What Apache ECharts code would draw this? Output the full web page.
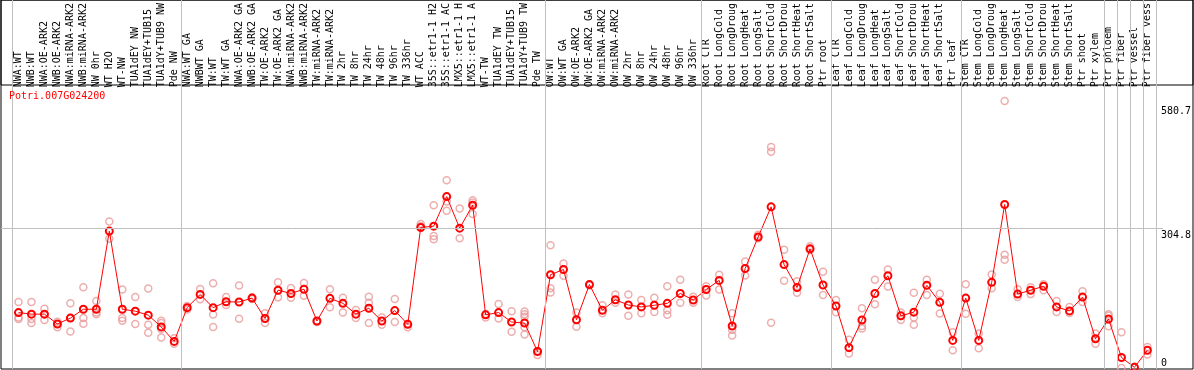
<!DOCTYPE html>
<html><head><meta charset="utf-8">
<script src="https://cdn.jsdelivr.net/npm/echarts@6/dist/echarts.min.js"></script>
<style>html,body{margin:0;padding:0;background:#fff}#c{width:1194px;height:370px}</style>
</head><body><div id="c"></div>
<script>
const chartTitle = 'Potri.007G024200';
const categories = [
'NWA:WT','NWB:WT','NWA:OE-ARK2','NWB:OE-ARK2','NWA:miRNA-ARK2','NWB:miRNA-ARK2','NW 0hr','WT H2O','WT-NW','TUA1dEY NW',
'TUA1dEY+TUB15','TUA1dY+TUB9 NW','Pde NW','NWA:WT GA','NWBWT GA','TW:WT','TW:WT GA','NWA:OE-ARK2 GA','NWB:OE-ARK2 GA','TW:OE-ARK2',
'TW:OE-ARK2 GA','NWA:miRNA-ARK2','NWB:miRNA-ARK2','TW:miRNA-ARK2','TW:miRNA-ARK2','TW 2hr','TW 8hr','TW 24hr','TW 48hr','TW 96hr',
'TW 336hr','WT ACC','35S::etr1-1 H2','35S::etr1-1 AC','LMX5::etr1-1 H','LMX5::etr1-1 A','WT-TW','TUA1dEY TW','TUA1dEY+TUB15','TUA1dY+TUB9 TW',
'Pde TW','OW:WT','OW:WT GA','OW:OE-ARK2','OW:OE-ARK2 GA','OW:miRNA-ARK2','OW:miRNA-ARK2','OW 2hr','OW 8hr','OW 24hr',
'OW 48hr','OW 96hr','OW 336hr','Root CTR','Root LongCold','Root LongDroug','Root LongHeat','Root LongSalt','Root ShortCold','Root ShortDrou',
'Root ShortHeat','Root ShortSalt','Ptr root','Leaf CTR','Leaf LongCold','Leaf LongDroug','Leaf LongHeat','Leaf LongSalt','Leaf ShortCold','Leaf ShortDrou',
'Leaf ShortHeat','Leaf ShortSalt','Ptr leaf','Stem CTR','Stem LongCold','Stem LongDroug','Stem LongHeat','Stem LongSalt','Stem ShortCold','Stem ShortDrou',
'Stem ShortHeat','Stem ShortSalt','Ptr shoot','Ptr xylem','Ptr phloem','Ptr fiber','Ptr vessel','Ptr fiber vess'
];
const means = [
123.0,119.5,119.5,97.7,110.8,130.4,130.4,303.7,130.4,126.1,
117.3,91.1,59.0,133.9,163.2,133.9,147.0,146.4,155.1,109.9,
172.6,165.4,174.8,104.2,154.5,143.5,119.5,132.6,104.2,127.4,
96.8,311.8,314.6,380.2,310.2,361.1,118.0,123.0,102.0,99.8,
36.5,206.9,218.5,107.1,185.1,128.2,151.4,139.8,135.5,139.2,
143.5,165.4,150.8,174.1,194.4,93.3,220.7,290.6,357.6,229.4,
178.5,264.4,184.2,137.6,45.2,106.4,165.4,204.7,115.8,123.9,
183.5,145.7,61.2,155.1,61.2,190.1,362.7,163.9,172.6,181.3,
135.5,126.7,157.3,64.9,108.6,23.4,1.5,39.3
];
const replicates = [
[146.4,112.1,108.6],[146.4,108.6,99.8],[131.7,119.5,106.4],[102.7,90.2],[143.5,110.8,80.8],
[179.2,110.8,98.3],[148.6,123.0,119.5],[324.9,286.9],[174.1,110.8,104.9],[157.3,97.7],
[176.3,96.1,78.0],[104.9,99.8,86.7,67.7],[66.2,54.0],[137.6,130.0],[175.4,152.3],
[187.9,118.6,91.1],[157.3,139.8],[182.9,109.2],[153.0,157.0],[121.7,99.8],
[190.1,156.7],[177.6,155.8],[188.5,160.1],[104.0,102.0],[174.8,134.8],
[155.8,123.0],[128.9,110.8],[158.0,144.9,99.8],[112.1,96.1],[152.9,102.0],
[90.2,98.0],[319.6,314.6],[361.1,292.8,285.6],[416.6,369.2,348.9],[353.9,287.7],
[372.1,367.0,341.5],[112.1,120.0],[142.0,109.9],[126.1,80.2],[125.2,119.5,113.6,90.2,74.3],
[29.1,38.0],[272.4,177.0,167.6],[231.6,204.7],[123.0,91.8],[185.0,183.0],
[139.2,121.7],[163.2,144.9],[163.2,115.8],[150.8,121.7],[155.8,124.5],
[181.3,128.2,118.0],[196.0,144.9],[158.0,144.9],[181.3,161.0],[206.9,174.1],
[121.7,84.6,72.1],[236.0,205.4],[295.6,288.0],[490.0,480.0,100.5],[262.2,193.8],
[192.3,166.7],[270.3,262.0],[213.5,161.7],[150.8,123.9],[62.7,32.1],
[132.6,93.3,87.4],[196.0,141.4],[218.5,180.7],[123.0,106.4],[166.7,112.1,96.1],
[196.0,161.7],[164.5,120.8],[79.3,39.3],[185.7,120.2],[76.5,43.7],
[207.6,177.0],[592.1,251.3,240.3],[174.8,157.3],[163.9,179.2],[185.7,172.6],
[148.6,124.5],[135.5,122.3],[170.4,146.4],[76.3,54.0],[119.5,115.8,92.4],
[79.3,0],[2.8],[46.5,29.9]
];
const groupBreaks = [0,13,41,53,63,73,84,85,86,87,88];
const yTickLabels = [0,304.8,580.7];
const gridValues = [304.8];
const yMin = -2.2, yMax = 618.3;

const FONT = 'DejaVu Sans Mono';
const repPoints = [];
replicates.forEach((reps, i) => reps.forEach(v => repPoints.push([i, v])));

const chart = echarts.init(document.getElementById('c'), null, {renderer: 'canvas'});
const hiddenAxis = (g, extra) => Object.assign({gridIndex: g, type: 'value', show: false}, extra || {});
const yLabelAxis = (vals, va) => ({
  gridIndex: 0, type: 'value', min: yMin, max: yMax, position: 'right',
  axisLine: {show: false}, axisTick: {show: false}, splitLine: {show: false},
  axisLabel: {customValues: vals, margin: 7, verticalAlign: va, fontFamily: FONT, fontSize: 10, color: '#000'}
});
chart.setOption({
  animation: false,
  backgroundColor: '#fff',
  title: {text: chartTitle, left: 9, top: 91, padding: 0,
    textStyle: {fontFamily: FONT, fontSize: 10, fontWeight: 'normal', color: '#ff0000'}},
  grid: [
    {left: 12, right: 38, top: 85, bottom: 1},
    {left: 1, right: 1, top: 0, bottom: 1, show: true, borderColor: '#000', borderWidth: 1, backgroundColor: 'transparent'},
    {left: 1, right: 1, top: 0, height: 85, show: true, borderColor: '#000', borderWidth: 1, backgroundColor: 'transparent'},
    {left: 12, right: 38, top: 0, bottom: 1},
    {left: 1, right: 31, top: 85, bottom: 1}
  ],
  xAxis: [
    {gridIndex: 0, type: 'category', data: categories, position: 'top', boundaryGap: true,
      axisLine: {show: false}, axisTick: {show: false}, splitLine: {show: false},
      axisLabel: {interval: 0, rotate: 90, margin: 2, fontFamily: FONT, fontSize: 10, color: '#000'}},
    hiddenAxis(1, {min: 0, max: 1}),
    hiddenAxis(2, {min: 0, max: 1}),
    hiddenAxis(3, {min: 0, max: categories.length}),
    hiddenAxis(4, {min: 0, max: 1})
  ],
  yAxis: [
    yLabelAxis(yTickLabels.filter(v => v > 0), 'top'),
    yLabelAxis(yTickLabels.filter(v => v <= 0), 'bottom'),
    hiddenAxis(1, {min: 0, max: 1}),
    hiddenAxis(2, {min: 0, max: 1}),
    hiddenAxis(3, {min: 0, max: 1}),
    hiddenAxis(4, {min: yMin, max: yMax})
  ],
  series: [
    {type: 'line', xAxisIndex: 3, yAxisIndex: 4, data: [], silent: true, z: 1,
      markLine: {silent: true, symbol: 'none', label: {show: false}, animation: false,
        lineStyle: {color: '#c0c0c0', width: 1, type: 'solid'},
        data: groupBreaks.map(b => ({xAxis: b}))}},
    {type: 'line', xAxisIndex: 4, yAxisIndex: 5, data: [], silent: true, z: 1,
      markLine: {silent: true, symbol: 'none', label: {show: false}, animation: false,
        lineStyle: {color: '#c0c0c0', width: 1, type: 'solid'},
        data: gridValues.map(v => ({yAxis: v}))}},
    {type: 'scatter', xAxisIndex: 0, yAxisIndex: 0, data: repPoints, symbol: 'circle', symbolSize: 7, z: 3,
      itemStyle: {color: 'rgba(0,0,0,0)', borderColor: '#e99a9a', borderWidth: 1.5}},
    {type: 'line', xAxisIndex: 0, yAxisIndex: 0, data: means, symbol: 'circle', symbolSize: 7, showAllSymbol: true, z: 4,
      itemStyle: {color: 'rgba(0,0,0,0)', borderColor: '#ff0000', borderWidth: 2},
      lineStyle: {color: '#ff0000', width: 1}}
  ]
});
</script>
</body></html>
